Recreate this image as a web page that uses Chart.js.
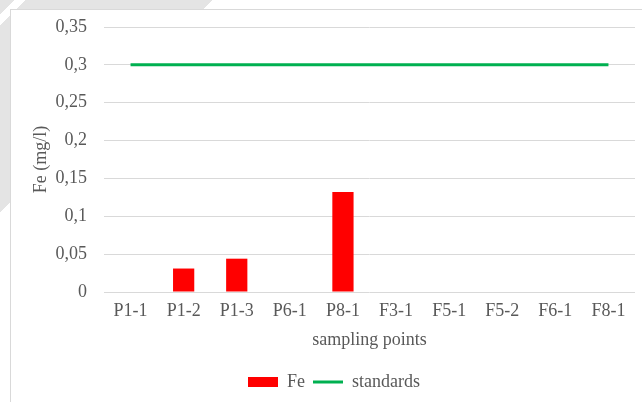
<!DOCTYPE html>
<html lang="en">
<head>
    <meta charset="UTF-8">
    <title>Fe sampling points</title>
    <script src="https://cdn.jsdelivr.net/npm/chart.js"></script>
    <style>
        body {
            margin: 0;
            width: 642px;
            height: 402px;
            overflow: hidden;
            background: linear-gradient(135deg, #e4e4e4 0px, #e4e4e4 10px, #fff 10px, #fff 18px, #e4e4e4 18px, #e4e4e4 150px, #fff 150px);
        }
        #frame {
            position: absolute;
            left: 10px;
            top: 9px;
            width: 646px;
            height: 400px;
            background: #fff;
            border: 1px solid #d9d9d9;
        }
    </style>
</head>
<body>
    <div id="frame"><canvas id="chart" width="646" height="400"></canvas></div>
    <script>
        const categories = ['P1-1', 'P1-2', 'P1-3', 'P6-1', 'P8-1', 'F3-1', 'F5-1', 'F5-2', 'F6-1', 'F8-1'];
        const feValues = [0, 0.031, 0.044, 0, 0.132, 0, 0, 0, 0, 0];
        const standardValues = [0.3, 0.3, 0.3, 0.3, 0.3, 0.3, 0.3, 0.3, 0.3, 0.3];
        const yTickLabels = ['0', '0,05', '0,1', '0,15', '0,2', '0,25', '0,3', '0,35'];

        const font = { family: '"Liberation Serif", "Times New Roman", serif', size: 18 };
        const grey = '#595959';

        new Chart(document.getElementById('chart'), {
            data: {
                labels: categories,
                datasets: [
                    {
                        type: 'bar',
                        label: 'Fe',
                        data: feValues,
                        backgroundColor: '#ff0000',
                        categoryPercentage: 1,
                        barPercentage: 0.4,
                        pointStyle: 'rect',
                        order: 2
                    },
                    {
                        type: 'line',
                        label: 'standards',
                        data: standardValues,
                        borderColor: '#00b050',
                        backgroundColor: '#00b050',
                        borderWidth: 3,
                        pointRadius: 0,
                        pointStyle: 'line',
                        order: 1
                    }
                ]
            },
            options: {
                responsive: false,
                animation: false,
                layout: { padding: { top: 17, right: 0, bottom: 9, left: 0 } },
                plugins: {
                    tooltip: { enabled: false },
                    legend: {
                        position: 'bottom',
                        labels: {
                            font: font,
                            color: grey,
                            usePointStyle: true,
                            pointStyleWidth: 30,
                            boxHeight: 10,
                            padding: 8,
                            sort: (a, b) => a.datasetIndex - b.datasetIndex
                        }
                    }
                },
                scales: {
                    x: {
                        offset: true,
                        grid: { display: false, drawTicks: false },
                        border: { display: false },
                        ticks: { font: font, color: grey, padding: 8, maxRotation: 0, autoSkip: false },
                        title: { display: true, text: 'sampling points', font: font, color: grey, padding: { top: 4, bottom: 14 } },
                        afterFit: (scale) => { scale.height = 73; }
                    },
                    y: {
                        min: 0,
                        max: 0.35,
                        grid: { color: '#d9d9d9', drawTicks: false },
                        border: { display: false },
                        ticks: {
                            stepSize: 0.05,
                            font: font,
                            color: grey,
                            padding: 17,
                            callback: (v, i) => yTickLabels[i]
                        },
                        title: { display: true, text: 'Fe (mg/l)', font: font, color: grey, padding: { top: 19, bottom: 0 } },
                        afterFit: (scale) => {
                            scale.width = 93;
                            scale.paddingTop = 0;
                            scale.paddingBottom = 0;
                        }
                    },
                    // empty right margin so the legend stays centred on the whole frame
                    yRight: {
                        position: 'right',
                        grid: { display: false, drawTicks: false },
                        border: { display: false },
                        ticks: { display: false },
                        afterFit: (scale) => {
                            scale.width = 22;
                            scale.paddingTop = 0;
                            scale.paddingBottom = 0;
                        }
                    }
                }
            }
        });
    </script>
</body>
</html>
